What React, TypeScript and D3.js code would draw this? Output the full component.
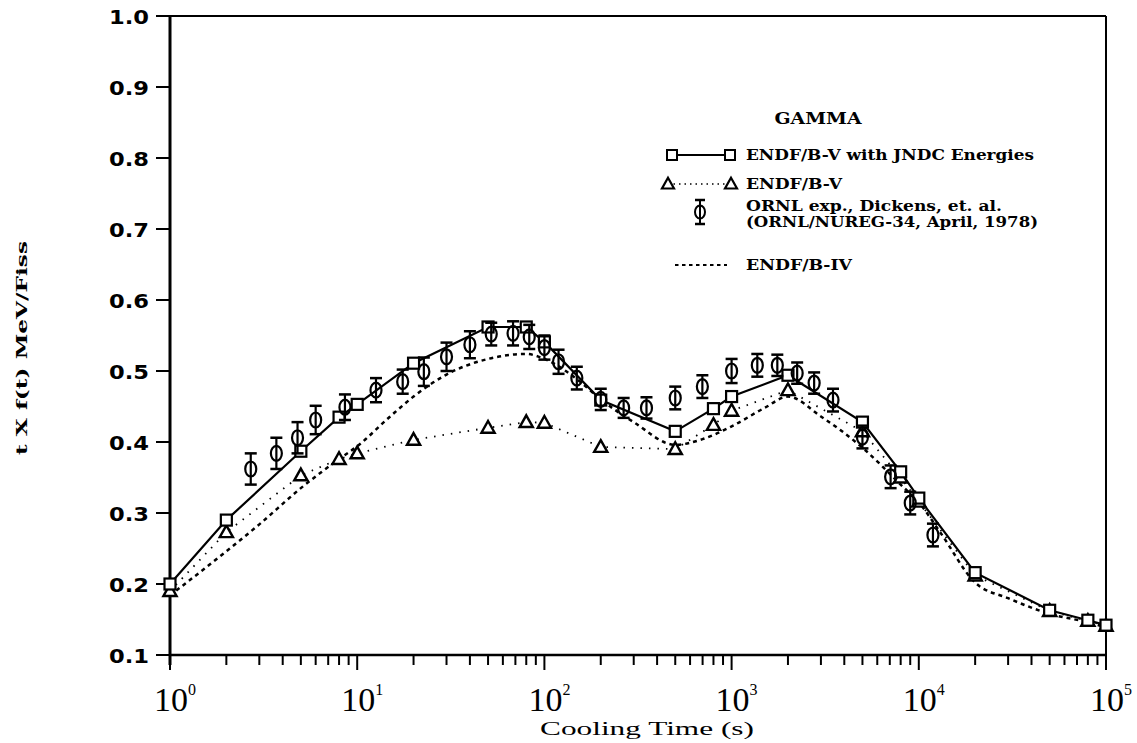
import React from "react";
import * as d3 from "d3";

// ENDF/B-V with JNDC energies (squares, solid)
const jndcT = [1, 2, 5, 8, 10, 20, 50, 80, 100, 200, 500, 800, 1000, 2000, 5000, 8000, 10000, 20000, 50000, 80000, 100000];
const jndcV = [0.2, 0.29, 0.387, 0.435, 0.453, 0.511, 0.562, 0.562, 0.541, 0.459, 0.415, 0.447, 0.464, 0.494, 0.428, 0.358, 0.321, 0.216, 0.163, 0.149, 0.142];

// ENDF/B-V (triangles, dotted)
const endfVT = [1, 2, 5, 8, 10, 20, 50, 80, 100, 200, 500, 800, 1000, 2000, 5000, 8000, 10000, 20000, 50000, 80000, 100000];
const endfVV = [0.19, 0.273, 0.353, 0.376, 0.384, 0.403, 0.42, 0.428, 0.427, 0.393, 0.39, 0.424, 0.444, 0.473, 0.415, 0.35, 0.316, 0.212, 0.162, 0.148, 0.141];

// ENDF/B-IV (dashed)
const endf4T = [1, 2, 3, 5, 8, 10, 15, 20, 30, 50, 80, 100, 150, 200, 300, 500, 700, 1000, 1500, 2000, 3000, 5000, 8000, 10000, 13000, 20000, 30000, 50000, 80000, 100000];
const endf4V = [0.184, 0.246, 0.284, 0.335, 0.376, 0.394, 0.436, 0.464, 0.495, 0.517, 0.524, 0.517, 0.488, 0.46, 0.428, 0.396, 0.404, 0.422, 0.448, 0.464, 0.436, 0.392, 0.34, 0.315, 0.273, 0.202, 0.18, 0.158, 0.146, 0.139];

// ORNL experiment (Dickens et al.)
const expT = [2.7, 3.7, 4.8, 6.0, 8.6, 12.6, 17.5, 22.7, 30, 40, 52, 68, 83, 100, 119, 149, 200, 265, 351, 500, 698, 1000, 1372, 1755, 2240, 2760, 3480, 5000, 7070, 9000, 11900];
const expV = [0.362, 0.384, 0.406, 0.431, 0.449, 0.473, 0.485, 0.499, 0.52, 0.537, 0.552, 0.553, 0.548, 0.533, 0.513, 0.49, 0.46, 0.448, 0.448, 0.462, 0.478, 0.5, 0.508, 0.508, 0.497, 0.483, 0.459, 0.407, 0.351, 0.314, 0.269];
const expErr = [0.022, 0.022, 0.022, 0.02, 0.018, 0.017, 0.017, 0.02, 0.02, 0.019, 0.016, 0.017, 0.017, 0.017, 0.017, 0.016, 0.015, 0.014, 0.015, 0.016, 0.016, 0.017, 0.016, 0.015, 0.015, 0.015, 0.016, 0.016, 0.016, 0.016, 0.016];

const yTickValues = [0.1, 0.2, 0.3, 0.4, 0.5, 0.6, 0.7, 0.8, 0.9, 1.0];
const xDecades = [0, 1, 2, 3, 4, 5];

const legendTitle = "GAMMA";
const legendLabels = ["ENDF/B-V with JNDC Energies", "ENDF/B-V", "ORNL exp., Dickens, et. al.", "(ORNL/NUREG-34, April, 1978)", "ENDF/B-IV"];
const xTitle = "Cooling Time (s)";
const yTitle = "t X f(t) MeV/Fiss";

const W = 1137;
const H = 743;
const L = 170, R = 1106, T = 16, B = 655;

export default function App() {
  const x = d3.scaleLog().domain([1, 1e5]).range([L, R]);
  const y = d3.scaleLinear().domain([0.1, 1.0]).range([B, T]);

  const lineLin = d3.line<[number, number]>().x((d) => x(d[0])).y((d) => y(d[1]));
  const lineSmooth = d3
    .line<[number, number]>()
    .x((d) => x(d[0]))
    .y((d) => y(d[1]))
    .curve(d3.curveMonotoneX);

  const jndc: [number, number][] = jndcT.map((t, i) => [t, jndcV[i]]);
  const endfV: [number, number][] = endfVT.map((t, i) => [t, endfVV[i]]);
  const endf4: [number, number][] = endf4T.map((t, i) => [t, endf4V[i]]);

  const minorTicks = x.ticks();
  const fmt = d3.format(".1f");

  const tri = (cx: number, cy: number, s: number) =>
    `M${cx},${cy - s * 0.62} L${cx + s * 0.6},${cy + s * 0.45} L${cx - s * 0.6},${cy + s * 0.45} Z`;

  const serifBold = "'DejaVu Serif', serif";

  return (
    <svg
      width={W}
      height={H}
      style={{ position: "absolute", left: 0, top: 0, background: "#fff" }}
      xmlns="http://www.w3.org/2000/svg"
    >
      <rect x={0} y={0} width={W} height={H} fill="#fff" />
      {/* frame */}
      <line x1={L} y1={T} x2={R} y2={T} stroke="#000" strokeWidth={2} />
      <line x1={R} y1={T} x2={R} y2={B} stroke="#000" strokeWidth={2} />
      <line x1={L} y1={T} x2={L} y2={B + 10} stroke="#000" strokeWidth={3} />
      <line x1={L} y1={B} x2={R} y2={B} stroke="#000" strokeWidth={2.5} />

      {/* y ticks */}
      {yTickValues.map((v) => (
        <g key={"y" + v}>
          <line x1={L - 14} x2={L} y1={y(v)} y2={y(v)} stroke="#000" strokeWidth={2} />
          <text
            x={149}
            y={y(v) + 7.5}
            textAnchor="end"
            fontFamily="'DejaVu Sans', sans-serif"
            fontWeight="bold"
            fontSize={20}
            textLength={40}
            lengthAdjust="spacingAndGlyphs"
            fill="#000"
          >
            {fmt(v)}
          </text>
        </g>
      ))}

      {/* x ticks */}
      {minorTicks.map((t) => {
        const lg = Math.log10(t);
        const major = Math.abs(lg - Math.round(lg)) < 1e-9;
        return (
          <line
            key={"xt" + t}
            x1={x(t)}
            x2={x(t)}
            y1={B}
            y2={B + (major ? 15 : 10)}
            stroke="#000"
            strokeWidth={2}
          />
        );
      })}
      {xDecades.map((d) => (
        <g key={"xl" + d}>
          <text
            x={x(Math.pow(10, d)) + 1}
            y={711}
            textAnchor="middle"
            fontFamily="'Liberation Serif', serif"
            fontSize={34}
            fill="#000"
          >
            10
          </text>
          <text
            x={x(Math.pow(10, d)) + 18}
            y={695}
            fontFamily="'Liberation Serif', serif"
            fontSize={16}
            fill="#000"
          >
            {d}
          </text>
        </g>
      ))}

      {/* axis titles */}
      <text
        x={647}
        y={735}
        textAnchor="middle"
        fontFamily="'Liberation Serif', serif"
        fontSize={19}
        textLength={214}
        lengthAdjust="spacingAndGlyphs"
        fill="#000"
      >
        {xTitle}
      </text>
      <text
        transform={`translate(27,348) rotate(-90)`}
        textAnchor="middle"
        fontFamily={serifBold}
        fontWeight="bold"
        fontSize={15}
        textLength={214}
        lengthAdjust="spacingAndGlyphs"
        fill="#000"
      >
        {yTitle}
      </text>

      {/* ENDF/B-IV dashed */}
      <path d={lineSmooth(endf4) || ""} fill="none" stroke="#000" strokeWidth={2.5} strokeDasharray="4 4" />
      {/* ENDF/B-V dotted */}
      <path d={lineLin(endfV) || ""} fill="none" stroke="#000" strokeWidth={1.8} strokeDasharray="1.5 7" />
      {/* JNDC solid */}
      <path d={lineLin(jndc) || ""} fill="none" stroke="#000" strokeWidth={2.2} />

      {/* triangles */}
      {endfV.map(([t, v]) => (
        <path key={"tr" + t} d={tri(x(t), y(v), 11)} fill="#fff" stroke="#000" strokeWidth={2.4} />
      ))}
      {/* squares */}
      {jndc.map(([t, v]) => (
        <rect key={"sq" + t} x={x(t) - 5.5} y={y(v) - 5.5} width={11} height={11} fill="#fff" stroke="#000" strokeWidth={2.2} />
      ))}
      {/* experiment */}
      {expT.map((t, i) => {
        const cx = x(t);
        const cy = y(expV[i]);
        const y0 = y(expV[i] - expErr[i]);
        const y1 = y(expV[i] + expErr[i]);
        return (
          <g key={"ex" + t}>
            <ellipse cx={cx} cy={cy} rx={5.5} ry={7.5} fill="none" stroke="#000" strokeWidth={2.2} />
            <line x1={cx} x2={cx} y1={y0} y2={y1} stroke="#000" strokeWidth={2.2} />
            <line x1={cx - 6} x2={cx + 6} y1={y0} y2={y0} stroke="#000" strokeWidth={2.5} />
            <line x1={cx - 6} x2={cx + 6} y1={y1} y2={y1} stroke="#000" strokeWidth={2.5} />
          </g>
        );
      })}

      {/* legend */}
      <text x={818} y={124} textAnchor="middle" fontFamily={serifBold} fontWeight="bold" fontSize={17} textLength={87} lengthAdjust="spacingAndGlyphs" fill="#000">
        {legendTitle}
      </text>
      <line x1={672} x2={730} y1={155} y2={155} stroke="#000" strokeWidth={2} />
      <rect x={667} y={150} width={10} height={10} fill="#fff" stroke="#000" strokeWidth={2} />
      <rect x={725} y={150} width={10} height={10} fill="#fff" stroke="#000" strokeWidth={2} />
      <text x={746} y={160} fontFamily={serifBold} fontWeight="bold" fontSize={15} textLength={288} lengthAdjust="spacingAndGlyphs" fill="#000">
        {legendLabels[0]}
      </text>

      <line x1={668} x2={731} y1={184} y2={184} stroke="#000" strokeWidth={1.5} strokeDasharray="1.5 4" />
      <path d={tri(668, 184, 10)} fill="#fff" stroke="#000" strokeWidth={2.2} />
      <path d={tri(731, 184, 10)} fill="#fff" stroke="#000" strokeWidth={2.2} />
      <text x={746} y={189} fontFamily={serifBold} fontWeight="bold" fontSize={15} textLength={96} lengthAdjust="spacingAndGlyphs" fill="#000">
        {legendLabels[1]}
      </text>

      <ellipse cx={700} cy={212} rx={5} ry={6.5} fill="none" stroke="#000" strokeWidth={2} />
      <line x1={700} x2={700} y1={200} y2={224} stroke="#000" strokeWidth={2} />
      <line x1={695} x2={705} y1={200} y2={200} stroke="#000" strokeWidth={2.5} />
      <line x1={695} x2={705} y1={224} y2={224} stroke="#000" strokeWidth={2.5} />
      <text x={746} y={211} fontFamily={serifBold} fontWeight="bold" fontSize={14} textLength={256} lengthAdjust="spacingAndGlyphs" fill="#000">
        {legendLabels[2]}
      </text>
      <text x={746} y={227} fontFamily={serifBold} fontWeight="bold" fontSize={14} textLength={292} lengthAdjust="spacingAndGlyphs" fill="#000">
        {legendLabels[3]}
      </text>

      <line x1={675} x2={727} y1={265} y2={265} stroke="#000" strokeWidth={2} strokeDasharray="3.5 3.5" />
      <text x={746} y={270} fontFamily={serifBold} fontWeight="bold" fontSize={15} textLength={106} lengthAdjust="spacingAndGlyphs" fill="#000">
        {legendLabels[4]}
      </text>
    </svg>
  );
}
